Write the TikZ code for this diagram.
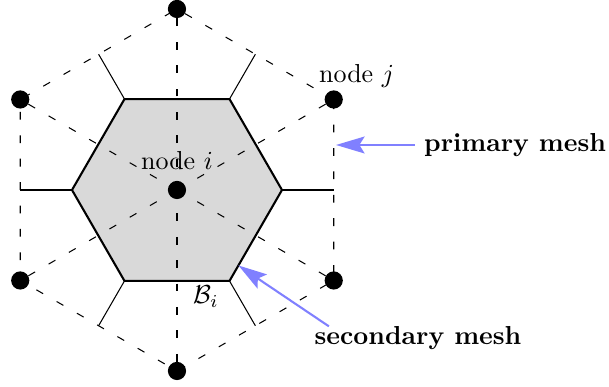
\documentclass[tikz,border=0pt]{standalone}
\usepackage{amsmath,amssymb}
\usepackage{tikz}
\usetikzlibrary{arrows.meta,calc,positioning}

\begin{document}
\begin{tikzpicture}[x=0.3846pt,y=0.3846pt,
  mesh/.style={loosely dashed},
  cell/.style={thick,fill=gray!30},
  pointer/.style={thick,blue!50,-{Stealth[length=11pt,width=6.5pt,inset=2pt]}}]
  \useasboundingbox (-177,-197) rectangle (432,190);
  \coordinate (ni) at (0,0);
  \foreach \a [count=\k] in {30,90,150,210,270,330}
    \coordinate (n\k) at (\a:181);
  \foreach \a [count=\k] in {0,60,120,180,240,300} {
    \coordinate (c\k) at (\a:105);
    \coordinate (m\k) at (\a:156.75);
  }
  % secondary cell
  \filldraw[cell] (c1) -- (c2) -- (c3) -- (c4) -- (c5) -- (c6) -- cycle;
  % primary mesh
  \draw[mesh] (n1) -- (n2) -- (n3) -- (n4) -- (n5) -- (n6) -- cycle;
  \foreach \k in {1,...,6} {
    \draw[mesh] (ni) -- (n\k);
    \draw (c\k) -- (m\k);
  }
  \foreach \k in {1,...,6}
    \fill (n\k) circle (3.5pt);
  \fill (ni) circle (3.5pt);
  \node[above=4.3pt of ni] (lbli) {node $i$};
  \node[above=1.2pt of n1,xshift=8.8pt] (lblj) {node $j$};
  \node[anchor=base] (lblB) at (29,-114) {$\mathcal{B}_i$};
  \node[anchor=west,font=\bfseries] (lblp) at (238,45) {primary mesh};
  \node[anchor=base,font=\bfseries] (lbls) at (241,-155) {secondary mesh};
  \coordinate (tipp) at (159,45);
  \draw[pointer] (lblp.west) -- (tipp);
  \draw[pointer] ([xshift=9pt,yshift=-3.3pt]lbls.north west) -- ($(c6)!0.17!(c1)$);
\end{tikzpicture}
\end{document}
